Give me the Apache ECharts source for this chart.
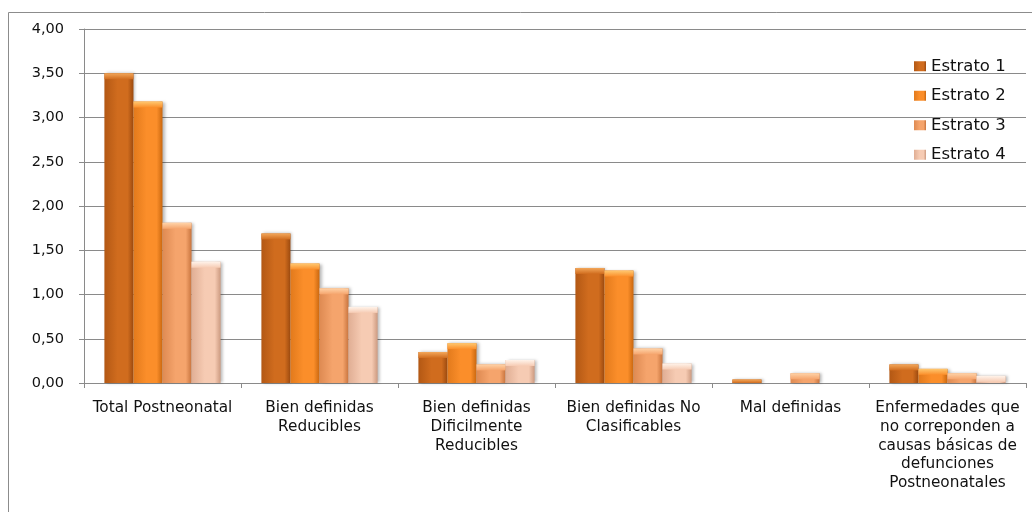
<!DOCTYPE html>
<html>
<head>
<meta charset="utf-8">
<script src="https://cdn.jsdelivr.net/npm/echarts@6/dist/echarts.min.js"></script>
<style>
  html, body { margin: 0; padding: 0; background: #fff; }
  #main { width: 1032px; height: 512px; }
</style>
</head>
<body>
<div id="main"></div>
<script>
// categorías del eje x (saltos de línea como en el original)
const categories = [
  "Total Postneonatal",
  "Bien definidas\nReducibles",
  "Bien definidas\nDificilmente\nReducibles",
  "Bien definidas No\nClasificables",
  "Mal definidas",
  "Enfermedades que\nno correponden a\ncausas básicas de\ndefunciones\nPostneonatales"
];
const seriesNames = ["Estrato 1", "Estrato 2", "Estrato 3", "Estrato 4"];
const estrato1 = [3.50, 1.69, 0.35, 1.30, 0.04, 0.21];
const estrato2 = [3.18, 1.35, 0.45, 1.27, 0, 0.16];
const estrato3 = [1.81, 1.07, 0.21, 0.39, 0.11, 0.11];
const estrato4 = [1.37, 0.86, 0.26, 0.22, 0, 0.08];
const yTicks = { min: 0, max: 4, interval: 0.5 };

const FONT = "DejaVu Sans";

// colores: [borde oscuro, centro, borde derecho, brillo superior]
const palette = [
  ["#b35814", "#d06c1e", "#9c4a0f", "#f3a75a"],
  ["#e27a1c", "#fb8e2a", "#c9670f", "#ffc870"],
  ["#de8a52", "#f5a46c", "#c8743e", "#ffd3a8"],
  ["#e0ae94", "#f6cbb3", "#cc9a80", "#fff3ea"]
];

const sideGradient = (c) => ({
  type: "linear", x: 0, y: 0, x2: 1, y2: 0,
  colorStops: [
    { offset: 0, color: c[0] },
    { offset: 0.45, color: c[1] },
    { offset: 0.8, color: c[1] },
    { offset: 1, color: c[2] }
  ]
});
const capGradient = (c) => ({
  type: "linear", x: 0, y: 0, x2: 0, y2: 1,
  colorStops: [
    { offset: 0, color: c[3] },
    { offset: 1, color: c[1] }
  ]
});

const values = [estrato1, estrato2, estrato3, estrato4];
const pxPerUnit = 354 / yTicks.max; // alto del grid / máximo, solo para limitar el biselado

const buildSeries = () => {
  const list = [];
  values.forEach((data, i) => {
    list.push({
      name: seriesNames[i],
      type: "bar",
      data: data,
      barGap: "0%",
      barCategoryGap: "26%",
      itemStyle: {
        color: sideGradient(palette[i]),
        shadowColor: "rgba(0,0,0,0.28)",
        shadowBlur: 3,
        shadowOffsetX: 2
      }
    });
  });
  // biselado superior de cada barra
  values.forEach((data, i) => {
    list.push({
      name: seriesNames[i],
      type: "pictorialBar",
      data: data.map((v) => (v > 0 ? v : "-")),
      barGap: "0%",
      barCategoryGap: "26%",
      symbol: "rect",
      symbolSize: (v) => [29, Math.min(6, v * pxPerUnit)],
      symbolPosition: "end",
      z: 5,
      itemStyle: { color: capGradient(palette[i]) }
    });
  });
  return list;
};

const chart = echarts.init(document.getElementById("main"));
chart.setOption({
  animation: false,
  textStyle: { fontFamily: FONT },
  graphic: [{
    type: "rect",
    shape: { x: 8.5, y: 12.5, width: 1030, height: 520 },
    style: { fill: "none", stroke: "#8c8c8c", lineWidth: 1 }
  }],
  legend: {
    data: seriesNames,
    orient: "vertical",
    left: 909,
    top: 52,
    icon: "rect",
    itemWidth: 12,
    itemHeight: 10,
    itemGap: 11,
    textStyle: { fontSize: 16.5, color: "#111", lineHeight: 18.5, fontFamily: FONT }
  },
  grid: { left: 84, right: 6, top: 29, bottom: 129 },
  xAxis: {
    type: "category",
    data: categories,
    axisLine: { lineStyle: { color: "#8a8a8a" } },
    axisTick: { show: true, length: 5, lineStyle: { color: "#8a8a8a" } },
    axisLabel: {
      interval: 0,
      fontSize: 15.3,
      lineHeight: 18.7,
      margin: 16,
      color: "#111",
      fontFamily: FONT
    }
  },
  yAxis: {
    type: "value",
    min: yTicks.min,
    max: yTicks.max,
    interval: yTicks.interval,
    axisLine: { show: true, lineStyle: { color: "#8a8a8a" } },
    axisTick: { show: true, length: 5, lineStyle: { color: "#8a8a8a" } },
    splitLine: { lineStyle: { color: "#8a8a8a" } },
    axisLabel: {
      fontSize: 14.5,
      margin: 20,
      color: "#111",
      fontFamily: FONT,
      formatter: (v) => v.toFixed(2).replace(".", ",")
    }
  },
  series: buildSeries()
});
</script>
</body>
</html>
